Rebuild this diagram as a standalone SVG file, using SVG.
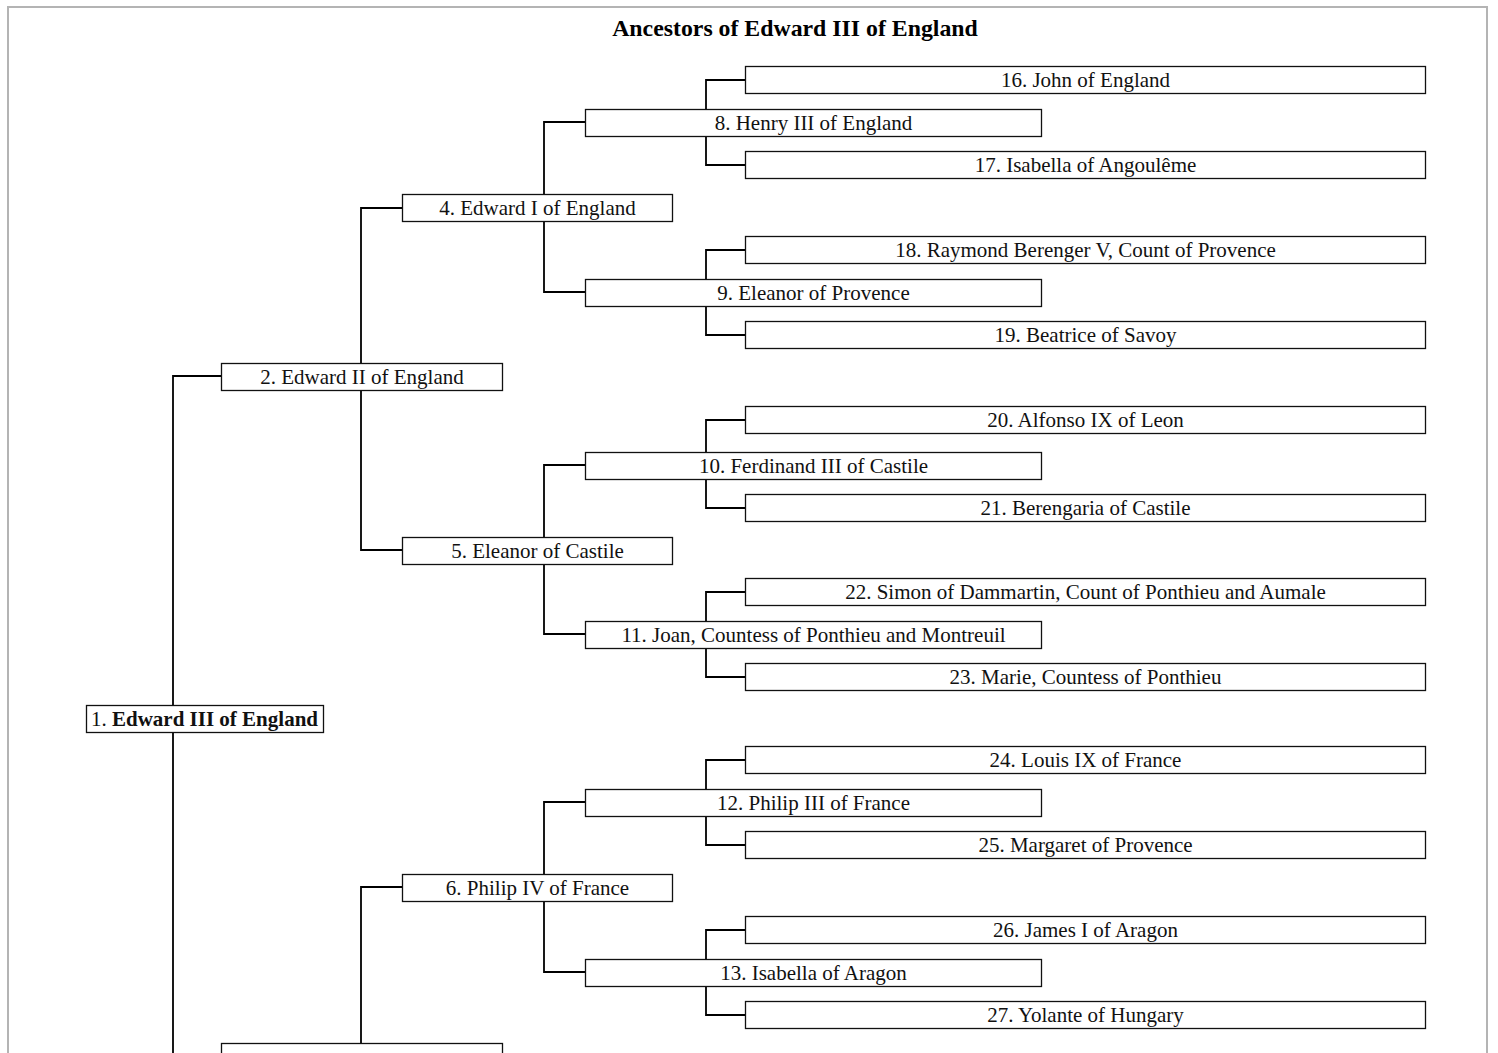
<svg xmlns="http://www.w3.org/2000/svg" width="1498" height="1053" viewBox="0 0 1498 1053">
<style>
.frame{fill:none;stroke:#b4b4b4;stroke-width:2}
.box{fill:#fff;stroke:#111;stroke-width:1.3}
.lbl{font-family:"Liberation Serif","Times New Roman",serif;font-size:21px;fill:#111;text-anchor:middle}
.title{font-family:"Liberation Serif","Times New Roman",serif;font-size:23.8px;font-weight:bold;fill:#000;text-anchor:middle}
.con{fill:none;stroke:#000;stroke-width:1.8}
</style>
<rect x="0" y="0" width="1498" height="1053" fill="#fff"/>
<rect class="frame" x="8" y="7" width="1479" height="1080"/>
<text class="title" x="795" y="36">Ancestors of Edward III of England</text>

<g id="connectors">
<path class="con" d="M745,80 H706 V109 M706,136 V165 H745"/>
<path class="con" d="M745,250 H706 V279 M706,306 V335 H745"/>
<path class="con" d="M745,420 H706 V452 M706,479 V508 H745"/>
<path class="con" d="M745,592 H706 V621 M706,648 V677 H745"/>
<path class="con" d="M745,760 H706 V789 M706,816 V845 H745"/>
<path class="con" d="M745,930 H706 V959 M706,986 V1015 H745"/>
<path class="con" d="M585,122 H544 V194 M544,221 V292 H585"/>
<path class="con" d="M585,465 H544 V537 M544,564 V634 H585"/>
<path class="con" d="M585,802 H544 V874 M544,901 V972 H585"/>
<path class="con" d="M402,208 H361 V363 M361,390 V550 H402"/>
<path class="con" d="M402,887 H361 V1043"/>
<path class="con" d="M221,376 H173 V705 M173,732 V1060"/>
</g>

<g id="n1"><rect class="box" x="86.5" y="705.5" width="237" height="27"/><text class="lbl" x="204.5" y="725.5">1. <tspan font-weight="bold">Edward III of England</tspan></text></g>
<g id="n2"><rect class="box" x="221.5" y="363.5" width="281" height="27"/><text class="lbl" x="362" y="383.5">2. Edward II of England</text></g>
<g id="n3"><rect class="box" x="221.5" y="1043.5" width="281" height="27"/></g>
<g id="n4"><rect class="box" x="402.5" y="194.5" width="270" height="27"/><text class="lbl" x="537.5" y="214.5">4. Edward I of England</text></g>
<g id="n5"><rect class="box" x="402.5" y="537.5" width="270" height="27"/><text class="lbl" x="537.5" y="557.5">5. Eleanor of Castile</text></g>
<g id="n6"><rect class="box" x="402.5" y="874.5" width="270" height="27"/><text class="lbl" x="537.5" y="894.5">6. Philip IV of France</text></g>
<g id="n8"><rect class="box" x="585.5" y="109.5" width="456" height="27"/><text class="lbl" x="813.5" y="129.5">8. Henry III of England</text></g>
<g id="n9"><rect class="box" x="585.5" y="279.5" width="456" height="27"/><text class="lbl" x="813.5" y="299.5">9. Eleanor of Provence</text></g>
<g id="n10"><rect class="box" x="585.5" y="452.5" width="456" height="27"/><text class="lbl" x="813.5" y="472.5">10. Ferdinand III of Castile</text></g>
<g id="n11"><rect class="box" x="585.5" y="621.5" width="456" height="27"/><text class="lbl" x="813.5" y="641.5">11. Joan, Countess of Ponthieu and Montreuil</text></g>
<g id="n12"><rect class="box" x="585.5" y="789.5" width="456" height="27"/><text class="lbl" x="813.5" y="809.5">12. Philip III of France</text></g>
<g id="n13"><rect class="box" x="585.5" y="959.5" width="456" height="27"/><text class="lbl" x="813.5" y="979.5">13. Isabella of Aragon</text></g>
<g id="n16"><rect class="box" x="745.5" y="66.5" width="680" height="27"/><text class="lbl" x="1085.5" y="86.5">16. John of England</text></g>
<g id="n17"><rect class="box" x="745.5" y="151.5" width="680" height="27"/><text class="lbl" x="1085.5" y="171.5">17. Isabella of Angoulême</text></g>
<g id="n18"><rect class="box" x="745.5" y="236.5" width="680" height="27"/><text class="lbl" x="1085.5" y="256.5">18. Raymond Berenger V, Count of Provence</text></g>
<g id="n19"><rect class="box" x="745.5" y="321.5" width="680" height="27"/><text class="lbl" x="1085.5" y="341.5">19. Beatrice of Savoy</text></g>
<g id="n20"><rect class="box" x="745.5" y="406.5" width="680" height="27"/><text class="lbl" x="1085.5" y="426.5">20. Alfonso IX of Leon</text></g>
<g id="n21"><rect class="box" x="745.5" y="494.5" width="680" height="27"/><text class="lbl" x="1085.5" y="514.5">21. Berengaria of Castile</text></g>
<g id="n22"><rect class="box" x="745.5" y="578.5" width="680" height="27"/><text class="lbl" x="1085.5" y="598.5">22. Simon of Dammartin, Count of Ponthieu and Aumale</text></g>
<g id="n23"><rect class="box" x="745.5" y="663.5" width="680" height="27"/><text class="lbl" x="1085.5" y="683.5">23. Marie, Countess of Ponthieu</text></g>
<g id="n24"><rect class="box" x="745.5" y="746.5" width="680" height="27"/><text class="lbl" x="1085.5" y="766.5">24. Louis IX of France</text></g>
<g id="n25"><rect class="box" x="745.5" y="831.5" width="680" height="27"/><text class="lbl" x="1085.5" y="851.5">25. Margaret of Provence</text></g>
<g id="n26"><rect class="box" x="745.5" y="916.5" width="680" height="27"/><text class="lbl" x="1085.5" y="936.5">26. James I of Aragon</text></g>
<g id="n27"><rect class="box" x="745.5" y="1001.5" width="680" height="27"/><text class="lbl" x="1085.5" y="1021.5">27. Yolante of Hungary</text></g>
</svg>
